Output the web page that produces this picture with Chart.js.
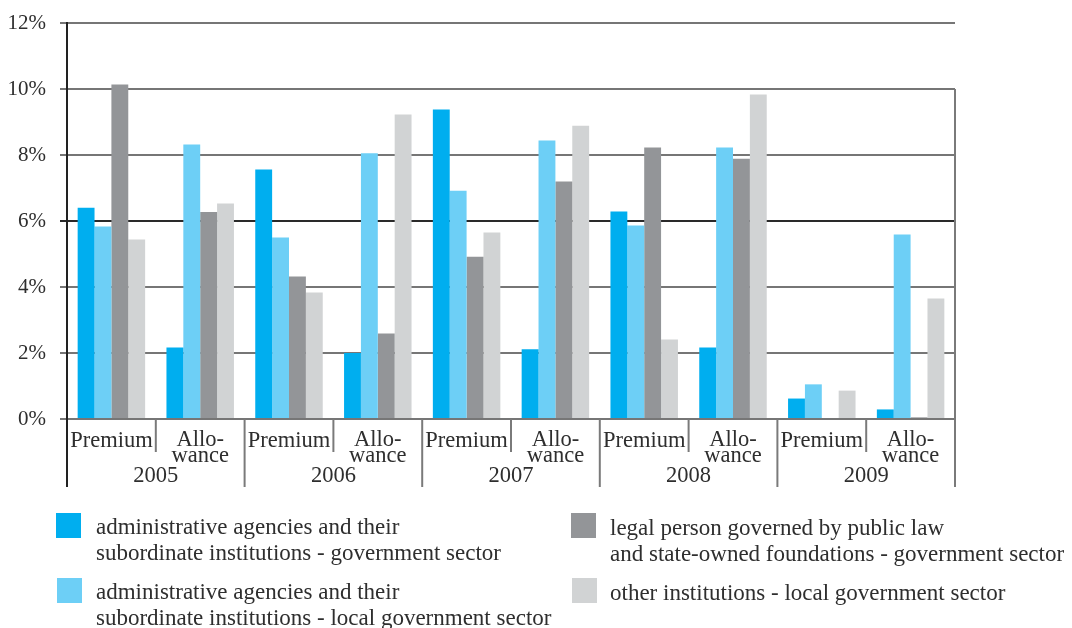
<!DOCTYPE html>
<html>
<head>
<meta charset="utf-8">
<script src="https://cdn.jsdelivr.net/npm/chart.js@4"></script>
<style>
    html, body { margin: 0; padding: 0; background: #fff; }
    #wrap { width: 1072px; height: 628px; }
</style>
</head>
<body>
<div id="wrap"><canvas id="sectorChart" width="1072" height="628"></canvas></div>
<script>
// categories: two payment types per year
const years = ["2005", "2006", "2007", "2008", "2009"];
const kinds = ["Premium", "Allowance"];
const kindLines = [["Premium"], ["Allo-", "wance"]];

// share in % for each category (Premium, Allowance per year)
const adminGov = [6.40, 2.17, 7.56, 2.00, 9.38, 2.11, 6.29, 2.17, 0.62, 0.29];
const adminLocal = [5.83, 8.32, 5.50, 8.05, 6.92, 8.44, 5.86, 8.23, 1.05, 5.59];
const legalPersons = [10.14, 6.27, 4.32, 2.59, 4.92, 7.20, 8.23, 7.89, 0, 0.05];
const otherLocal = [5.44, 6.53, 3.83, 9.23, 5.65, 8.89, 2.41, 9.83, 0.86, 3.65];

const yTicks = [0, 2, 4, 6, 8, 10, 12];

const seriesNames = [
    ["administrative agencies and their", "subordinate institutions - government sector"],
    ["administrative agencies and their", "subordinate institutions - local government sector"],
    ["legal person governed by public law", "and state-owned foundations - government sector"],
    ["other institutions - local government sector"]
];
const seriesColors = ["#00aeef", "#6dcff6", "#939598", "#d1d3d4"];

const labels = [];
years.forEach(y => kinds.forEach(k => labels.push(y + " " + k)));

const FONT = "'Liberation Serif', 'Times New Roman', serif";
const TEXT = "#2e2e2e";

// axis labels below the bars, category separators and legend
const decorations = {
    id: "decorations",
    afterDraw(chart) {
        const ctx = chart.ctx;
        const area = chart.chartArea;
        const x = chart.scales.x;
        const n = labels.length;
        const step = (area.right - area.left) / n;

        ctx.save();
        // separators under the axis
        for (let i = 0; i <= n; i++) {
            const px = area.left + i * step;
            const yearEdge = i % 2 === 0;
            ctx.beginPath();
            ctx.lineWidth = 2;
            ctx.strokeStyle = i === 0 ? "#222222" : "#7a7a7a";
            ctx.moveTo(px, i === n ? area.top + 66 : area.bottom);
            ctx.lineTo(px, area.bottom + (yearEdge ? 68 : 33));
            ctx.stroke();
        }

        ctx.fillStyle = TEXT;
        ctx.textAlign = "center";
        ctx.textBaseline = "alphabetic";
        ctx.font = "22.5px " + FONT;
        labels.forEach((lab, i) => {
            const cx = x.getPixelForValue(i);
            const lines = kindLines[i % 2];
            if (lines.length === 1) {
                ctx.fillText(lines[0], cx, area.bottom + 28);
            } else {
                ctx.fillText(lines[0], cx, area.bottom + 27);
                ctx.fillText(lines[1], cx, area.bottom + 43);
            }
        });
        years.forEach((y, j) => {
            const cx = (x.getPixelForValue(2 * j) + x.getPixelForValue(2 * j + 1)) / 2;
            ctx.fillText(y, cx, area.bottom + 63);
        });

        // legend, two columns
        const spots = [
            { bx: 56, by: 513, tx: 96, ty: 534 },
            { bx: 57, by: 578, tx: 96, ty: 599 },
            { bx: 571, by: 513, tx: 610, ty: 535 },
            { bx: 572, by: 578, tx: 610, ty: 600 }
        ];
        ctx.textAlign = "left";
        ctx.font = "23px " + FONT;
        spots.forEach((s, i) => {
            ctx.fillStyle = seriesColors[i];
            ctx.fillRect(s.bx, s.by, 25, 25);
            ctx.fillStyle = TEXT;
            seriesNames[i].forEach((line, k) => {
                ctx.fillText(line, s.tx, s.ty + k * 26);
            });
        });
        ctx.restore();
    }
};

new Chart(document.getElementById("sectorChart"), {
    type: "bar",
    data: {
        labels: labels,
        datasets: [
            { label: seriesNames[0].join(" "), data: adminGov, backgroundColor: seriesColors[0] },
            { label: seriesNames[1].join(" "), data: adminLocal, backgroundColor: seriesColors[1] },
            { label: seriesNames[2].join(" "), data: legalPersons, backgroundColor: seriesColors[2] },
            { label: seriesNames[3].join(" "), data: otherLocal, backgroundColor: seriesColors[3] }
        ]
    },
    options: {
        responsive: false,
        animation: false,
        devicePixelRatio: 1,
        datasets: {
            bar: { categoryPercentage: 0.76, barPercentage: 1.0, borderWidth: 0 }
        },
        layout: {
            padding: { top: 23, right: 117, left: 0, bottom: 0 }
        },
        plugins: {
            legend: { display: false },
            tooltip: { enabled: false },
            title: { display: false }
        },
        scales: {
            x: {
                ticks: { display: false },
                grid: { display: false },
                border: { display: false },
                afterFit(scale) {
                    scale.height = 628 - 419;
                    scale.paddingLeft = 0;
                    scale.paddingRight = 0;
                }
            },
            y: {
                min: 0,
                max: 12,
                afterBuildTicks(scale) {
                    scale.ticks = yTicks.map(v => ({ value: v }));
                },
                afterFit(scale) {
                    scale.width = 67;
                    scale.paddingTop = 0;
                    scale.paddingBottom = 0;
                },
                ticks: {
                    padding: 14,
                    color: TEXT,
                    font: { family: FONT, size: 21 },
                    callback: v => v + "%"
                },
                grid: {
                    tickLength: 7,
                    lineWidth: 2,
                    color: ctx => (ctx.tick && ctx.tick.value === 6) ? "#2a2a2a" : "#767676"
                },
                border: { display: true, color: "#222222", width: 2 }
            }
        }
    },
    plugins: [decorations]
});
</script>
</body>
</html>
